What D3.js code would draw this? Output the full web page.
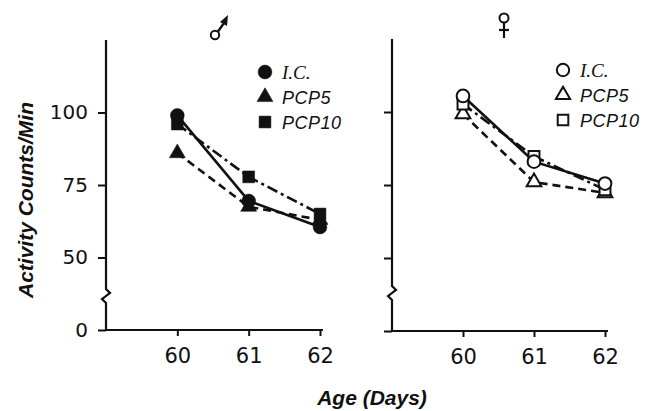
<!DOCTYPE html>
<html><head><meta charset="utf-8">
<script src="https://cdn.jsdelivr.net/npm/d3@7/dist/d3.min.js"></script>
<style>body{margin:0;background:#fff}svg{display:block}</style>
</head><body><svg id="c" width="646" height="411"></svg>
<script>
const days = [60, 61, 62];
const yTickValues = [25, 50, 75, 100];
const yTickLabels = ["0", "50", "75", "100"];
const seriesNames = ["I.C.", "PCP5", "PCP10"];
const maleIC = [99, 69.5, 60.5];
const malePCP5 = [86, 67.5, 63];
const malePCP10 = [96, 77.8, 65];
const femaleIC = [105.5, 83, 75.5];
const femalePCP5 = [99.3, 76, 72.3];
const femalePCP10 = [102.7, 84.8, 73.4];

const svg = d3.select("#c");
const ink = "#111";
const styles = [
  {shape: d3.symbolCircle, dash: null},
  {shape: d3.symbolTriangle, dash: "8,5"},
  {shape: d3.symbolSquare, dash: "11,4,3,4"}
];

const panels = [
  {x0: 106, x1: 320, xEnd: 323, yTop: 40, yBot: 330, brk: 296, filled: true, labels: true,
   data: [maleIC, malePCP5, malePCP10], sex: "m", symX: 215, symY: 35,
   legX: 265, legY: 72},
  {x0: 392, x1: 605, xEnd: 608, yTop: 39, yBot: 331, brk: 293, filled: false, labels: false,
   data: [femaleIC, femalePCP5, femalePCP10], sex: "f", symX: 504, symY: 18,
   legX: 563, legY: 70}
];

panels.forEach(p => {
  const x = d3.scaleLinear().domain([59, 62]).range([p.x0, p.x1]);
  const y = d3.scaleLinear().domain([25, 125]).range([p.yBot, p.yTop]);
  const g = svg.append("g");
  const ax = p.x0, b = p.brk;
  g.append("path")
    .attr("d", `M${ax},${p.yTop} L${ax},${b-7} L${ax+4},${b-3} L${ax-4},${b+3} L${ax},${b+7} L${ax},${p.yBot}`)
    .attr("fill", "none").attr("stroke", ink).attr("stroke-width", 2.2);
  g.append("line").attr("x1", ax - 1).attr("x2", p.xEnd).attr("y1", p.yBot).attr("y2", p.yBot)
    .attr("stroke", ink).attr("stroke-width", 2.2);
  const yAx = d3.axisLeft(y).tickValues(yTickValues).tickSize(8).tickPadding(10)
    .tickFormat((d, i) => p.labels ? yTickLabels[i] : "");
  const gy = g.append("g").attr("transform", `translate(${ax},0)`).call(yAx);
  gy.select(".domain").remove();
  gy.selectAll("line").attr("stroke", ink).attr("stroke-width", 2);
  gy.selectAll("text").attr("font-family", "'DejaVu Sans', sans-serif").attr("font-size", 20).attr("fill", ink);
  const xAx = d3.axisBottom(x).tickValues(days).tickSize(6).tickPadding(12).tickFormat(d3.format("d"));
  const gx = g.append("g").attr("transform", `translate(0,${p.yBot})`).call(xAx);
  gx.select(".domain").remove();
  gx.selectAll("line").attr("stroke", ink).attr("stroke-width", 2);
  gx.selectAll("text").attr("font-family", "'DejaVu Sans', sans-serif").attr("font-size", 21).attr("fill", ink);

  const line = d3.line().x((d, i) => x(days[i])).y(d => y(d));
  p.data.forEach((vals, s) => {
    g.append("path").datum(vals).attr("d", line).attr("fill", "none")
      .attr("stroke", ink).attr("stroke-width", 2.6)
      .attr("stroke-dasharray", styles[s].dash);
  });
  [1, 2, 0].forEach(s => {
    const vals = p.data[s];
    const size = s === 0 ? 150 : (s === 1 ? 110 : 140);
    g.selectAll(null).data(vals).enter().append("path")
      .attr("d", d3.symbol().type(styles[s].shape).size(p.filled ? size : size * 0.85))
      .attr("transform", (d, i) => `translate(${x(days[i])},${y(d)})`)
      .attr("fill", p.filled ? ink : "#fff")
      .attr("stroke", ink).attr("stroke-width", p.filled ? 0.5 : 2);
  });
  seriesNames.forEach((name, s) => {
    const ly = p.legY + s * 25;
    const size = s === 0 ? 150 : (s === 1 ? 110 : 140);
    g.append("path").attr("d", d3.symbol().type(styles[s].shape).size(p.filled ? size : size * 0.8))
      .attr("transform", `translate(${p.legX},${ly})`)
      .attr("fill", p.filled ? ink : "#fff").attr("stroke", ink).attr("stroke-width", p.filled ? 0.5 : 2);
    g.append("text").attr("x", p.legX + 17).attr("y", ly + 6.5)
      .attr("font-family", s === 0 ? "'Liberation Serif', serif" : "'Liberation Sans', sans-serif")
      .attr("font-style", "italic").attr("font-size", s === 0 ? 19 : 18).attr("fill", ink)
      .attr("letter-spacing", s === 0 ? 0 : 0.5)
      .text(name);
  });
  // sex symbols
  const sx = p.symX, sy = p.symY;
  if (p.sex === "m") {
    g.append("circle").attr("cx", sx).attr("cy", sy).attr("r", 4.2)
      .attr("fill", "none").attr("stroke", ink).attr("stroke-width", 2);
    g.append("line").attr("x1", sx + 3).attr("y1", sy - 3.5).attr("x2", sx + 9).attr("y2", sy - 12)
      .attr("stroke", ink).attr("stroke-width", 2.4);
    g.append("path").attr("d", `M${sx+13},${sy-20} L${sx+5},${sy-13} L${sx+12},${sy-9} Z`).attr("fill", ink);
  } else {
    g.append("circle").attr("cx", sx).attr("cy", sy).attr("r", 4.5)
      .attr("fill", "none").attr("stroke", ink).attr("stroke-width", 2);
    g.append("line").attr("x1", sx).attr("y1", sy + 4.5).attr("x2", sx).attr("y2", sy + 20)
      .attr("stroke", ink).attr("stroke-width", 2.2);
    g.append("line").attr("x1", sx - 5).attr("y1", sy + 12).attr("x2", sx + 5).attr("y2", sy + 12)
      .attr("stroke", ink).attr("stroke-width", 2.2);
  }
});

svg.append("text").attr("transform", "translate(33,200) rotate(-90)").attr("text-anchor", "middle")
  .attr("font-family", "'Liberation Sans', sans-serif").attr("font-weight", "bold").attr("font-style", "italic")
  .attr("font-size", 21).attr("fill", ink).text("Activity Counts/Min");
svg.append("text").attr("x", 372).attr("y", 405).attr("text-anchor", "middle")
  .attr("font-family", "'Liberation Sans', sans-serif").attr("font-weight", "bold").attr("font-style", "italic")
  .attr("font-size", 21).attr("fill", ink).text("Age (Days)");
</script></body></html>
